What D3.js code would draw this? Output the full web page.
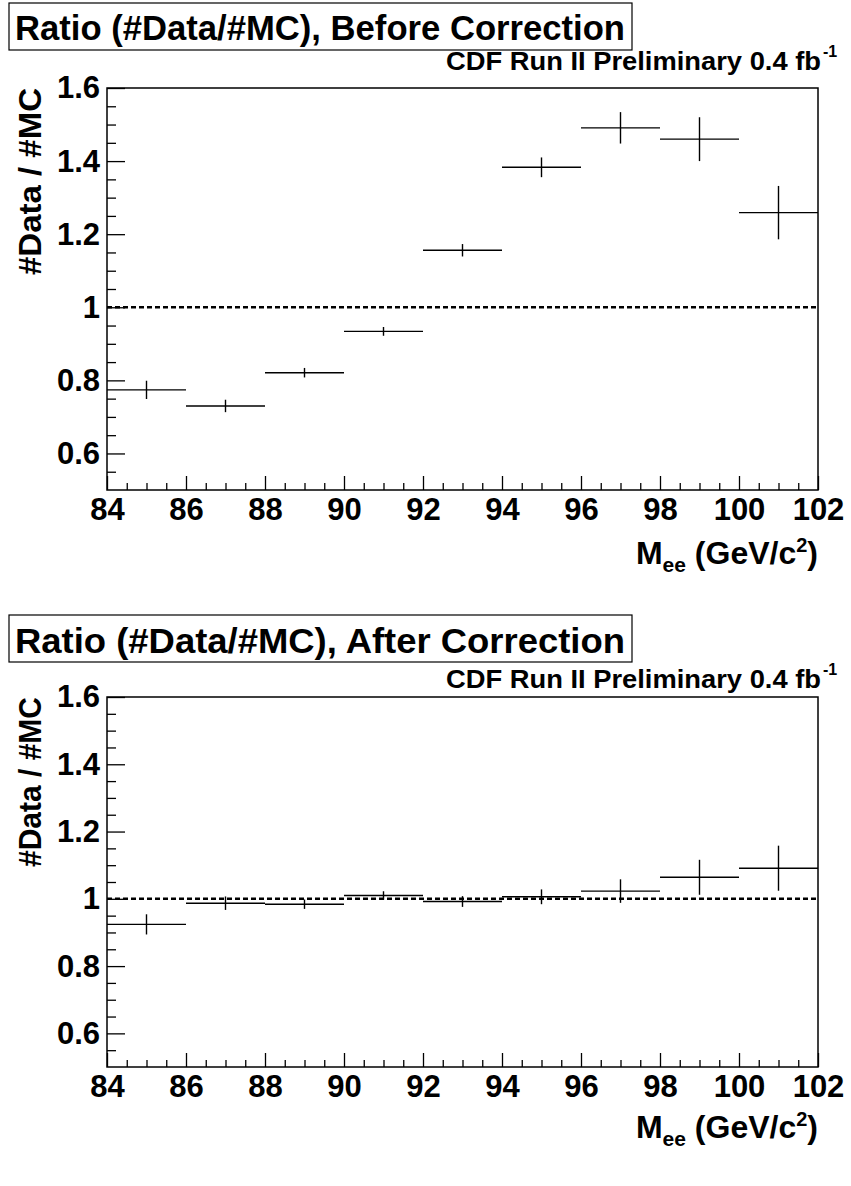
<!DOCTYPE html>
<html>
<head>
<meta charset="utf-8">
<title>Ratio Data/MC</title>
<script src="https://d3js.org/d3.v7.min.js"></script>
<style>
body { margin: 0; background: white; }
text { font-family: "Liberation Sans", Arial, sans-serif; font-weight: bold; fill: black; }
</style>
</head>
<body>
<div class="chart"></div>
<script>
// bins of M_ee (GeV/c^2), low edges
var binLow = [84, 86, 88, 90, 92, 94, 96, 98, 100];
var binWidth = 2;

// ratio #Data/#MC before correction, and its error
var beforeRatio = [0.774, 0.730, 0.821, 0.934, 1.156, 1.383, 1.491, 1.460, 1.259];
var beforeErr   = [0.025, 0.017, 0.013, 0.012, 0.017, 0.027, 0.043, 0.060, 0.073];

// ratio after correction
var afterRatio = [0.924, 0.987, 0.984, 1.010, 0.992, 1.006, 1.023, 1.064, 1.091];
var afterErr   = [0.030, 0.020, 0.014, 0.0125, 0.016, 0.022, 0.035, 0.052, 0.067];

var xTicks = [84, 86, 88, 90, 92, 94, 96, 98, 100, 102];
var yTicks = [0.6, 0.8, 1, 1.2, 1.4, 1.6];

var svg = d3.select(".chart")
    .append("svg")
    .attr("width", 851)
    .attr("height", 1186);

var left = 107, right = 818;

var panels = [
  {title: "Ratio (#Data/#MC), Before Correction", vals: beforeRatio, errs: beforeErr,
   top: 88, bottom: 490, boxY: 3, titleY: 40, cdfY: 70, xTitleY: 564, yTitleLen: 187},
  {title: "Ratio (#Data/#MC), After Correction", vals: afterRatio, errs: afterErr,
   top: 697, bottom: 1067, boxY: 615, titleY: 653, cdfY: 688, xTitleY: 1138, yTitleLen: 170}
];

panels.forEach(function(p) {
  var x = d3.scaleLinear().domain([84, 102]).range([left, right]);
  var y = d3.scaleLinear().domain([0.5, 1.6]).range([p.bottom, p.top]);

  // title box
  svg.append("rect")
      .attr("x", 9).attr("y", p.boxY)
      .attr("width", 623).attr("height", 47)
      .attr("fill", "white").attr("stroke", "black").attr("stroke-width", 1.2);
  svg.append("text")
      .attr("x", 15).attr("y", p.titleY)
      .attr("font-size", 35)
      .attr("textLength", 610).attr("lengthAdjust", "spacingAndGlyphs")
      .text(p.title);

  // CDF label
  svg.append("text")
      .attr("x", 446).attr("y", p.cdfY)
      .attr("font-size", 26)
      .attr("textLength", 375).attr("lengthAdjust", "spacingAndGlyphs")
      .text("CDF Run II Preliminary 0.4 fb");
  svg.append("text")
      .attr("x", 823).attr("y", p.cdfY - 13)
      .attr("font-size", 16)
      .text("-1");

  // frame
  svg.append("rect")
      .attr("x", left).attr("y", p.top)
      .attr("width", right - left).attr("height", p.bottom - p.top)
      .attr("fill", "none").attr("stroke", "black").attr("stroke-width", 1.5);

  // x axis, ticks pointing inward
  var gx = svg.append("g")
      .attr("transform", "translate(0," + p.bottom + ")")
      .call(d3.axisBottom(x).tickValues(xTicks).tickSizeInner(-14).tickSizeOuter(0).tickPadding(8)
            .tickFormat(d3.format("d")));
  svg.append("g")
      .attr("transform", "translate(0," + p.bottom + ")")
      .call(d3.axisBottom(x).tickValues(d3.range(84.5, 102, 0.5).filter(function(v) { return v % 2 != 0; }))
            .tickSizeInner(-7).tickSizeOuter(0).tickFormat(""));

  // y axis
  var gy = svg.append("g")
      .attr("transform", "translate(" + left + ",0)")
      .call(d3.axisLeft(y).tickValues(yTicks).tickSizeInner(-18).tickSizeOuter(0).tickPadding(7)
            .tickFormat(d3.format("~g")));
  svg.append("g")
      .attr("transform", "translate(" + left + ",0)")
      .call(d3.axisLeft(y).tickValues(d3.range(0.55, 1.6, 0.05).filter(function(v) { return Math.abs(v * 5 - Math.round(v * 5)) > 0.01; }))
            .tickSizeInner(-9).tickSizeOuter(0).tickFormat(""));

  svg.selectAll(".domain").remove();
  svg.selectAll(".tick line").attr("stroke", "black").attr("stroke-width", 1.3);
  gx.selectAll("text").attr("font-size", 31).attr("font-family", null);
  gy.selectAll("text").attr("font-size", 31).attr("font-family", null);

  // reference line at 1
  svg.append("line")
      .attr("x1", left).attr("x2", right)
      .attr("y1", y(1)).attr("y2", y(1))
      .attr("stroke", "black").attr("stroke-width", 2.6)
      .attr("stroke-dasharray", "5,3");

  // data points: bin width + error bar
  var pts = svg.append("g").selectAll("g")
      .data(binLow.map(function(b, i) { return {lo: b, v: p.vals[i], e: p.errs[i]}; }))
      .enter().append("g");
  pts.append("line")
      .attr("x1", function(d) { return x(d.lo); })
      .attr("x2", function(d) { return x(d.lo + binWidth); })
      .attr("y1", function(d) { return y(d.v); })
      .attr("y2", function(d) { return y(d.v); })
      .attr("stroke", "black").attr("stroke-width", 1.4);
  pts.append("line")
      .attr("x1", function(d) { return x(d.lo + binWidth / 2); })
      .attr("x2", function(d) { return x(d.lo + binWidth / 2); })
      .attr("y1", function(d) { return y(d.v - d.e); })
      .attr("y2", function(d) { return y(d.v + d.e); })
      .attr("stroke", "black").attr("stroke-width", 1.4);

  // y title
  svg.append("text")
      .attr("transform", "translate(41," + p.top + ") rotate(-90)")
      .attr("text-anchor", "end")
      .attr("font-size", 32)
      .attr("textLength", p.yTitleLen).attr("lengthAdjust", "spacingAndGlyphs")
      .text("#Data / #MC");

  // x title
  var xt = svg.append("text")
      .attr("x", right).attr("y", p.xTitleY)
      .attr("text-anchor", "end")
      .attr("font-size", 32);
  xt.append("tspan").text("M");
  xt.append("tspan").attr("font-size", 21).attr("dy", 8).text("ee");
  xt.append("tspan").attr("dy", -8).text(" (GeV/c");
  xt.append("tspan").attr("font-size", 20).attr("dy", -12).text("2");
  xt.append("tspan").attr("dy", 12).text(")");
});
</script>
</body>
</html>
